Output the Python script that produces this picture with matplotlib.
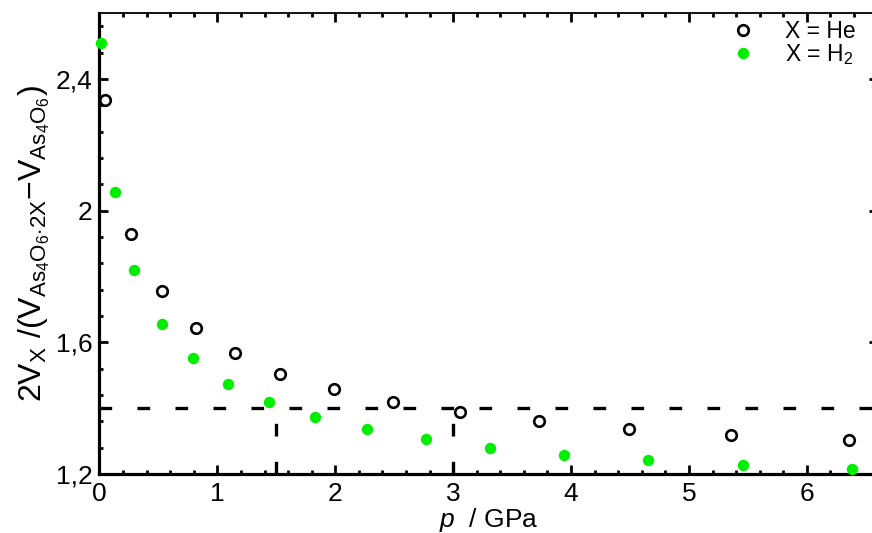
import matplotlib
matplotlib.use("Agg")
import matplotlib.pyplot as plt
from matplotlib.ticker import MultipleLocator, FuncFormatter
from matplotlib.lines import Line2D

plt.rcParams['font.family'] = ['Liberation Sans', 'DejaVu Sans']
plt.rcParams['mathtext.fontset'] = 'custom'
plt.rcParams['mathtext.rm'] = 'Liberation Sans'
plt.rcParams['mathtext.it'] = 'Liberation Sans:italic'
plt.rcParams['mathtext.bf'] = 'Liberation Sans:bold'

# Pressure (GPa) and volume ratio for the two guest species
he_p = [0.05, 0.27, 0.53, 0.82, 1.15, 1.53, 1.99, 2.49, 3.06, 3.73, 4.49, 5.36, 6.36]
he_r = [2.337, 1.930, 1.755, 1.644, 1.566, 1.504, 1.457, 1.420, 1.389, 1.361, 1.337, 1.318, 1.303]
h2_p = [0.01, 0.13, 0.29, 0.53, 0.79, 1.09, 1.44, 1.83, 2.27, 2.77, 3.31, 3.94, 4.65, 5.46, 6.38]
h2_r = [2.510, 2.056, 1.819, 1.656, 1.551, 1.474, 1.418, 1.374, 1.336, 1.305, 1.279, 1.259, 1.241, 1.226, 1.215]

ref_level = 1.4
ref_p = [1.5, 3.0]
x_ticks = [0, 1, 2, 3, 4, 5, 6]
y_ticks = [1.2, 1.6, 2.0, 2.4]

green = '#00ee00'
dash = (0, (3.8, 7.6))

fig = plt.figure(figsize=(8.72, 5.33), dpi=100)
ax = fig.add_axes([0.1141, 0.1107, 1.0064 - 0.1141, 0.9756 - 0.1107])

ax.set_xlim(0, 6.6)
ax.set_ylim(1.2, 2.6)

# Reference level and guide lines
ax.plot([0, 6.6], [ref_level, ref_level], color='black', lw=2.4, linestyle=dash,
        dash_capstyle='butt', zorder=1)
for p in ref_p:
    ax.plot([p, p], [1.2, ref_level], color='black', lw=2.4, linestyle=dash,
            dash_capstyle='butt', zorder=1)

ax.plot(he_p, he_r, linestyle='none', marker='o', ms=7.6, mfc='none', mec='black',
        mew=1.9, zorder=3, clip_on=False)
ax.plot(h2_p, h2_r, linestyle='none', marker='o', ms=8.2, mfc=green, mec='none',
        zorder=3, clip_on=False)

handles = [
    Line2D([], [], linestyle='none', marker='o', ms=7.6, mfc='none', mec='black', mew=1.9),
    Line2D([], [], linestyle='none', marker='o', ms=8.2, mfc=green, mec='none'),
]
leg = ax.legend(handles, ['X = He', r'X = H$_2$'], loc='upper right',
                bbox_to_anchor=(0.983, 1.005), frameon=False, fontsize=16.5,
                handlelength=1.0, handletextpad=1.3, labelspacing=-0.05,
                borderaxespad=0.0)

ax.xaxis.set_major_locator(MultipleLocator(1))
ax.xaxis.set_minor_locator(MultipleLocator(0.2))
ax.yaxis.set_major_locator(MultipleLocator(0.4))
ax.yaxis.set_minor_locator(MultipleLocator(0.08))
ax.set_xticks(x_ticks)
ax.set_yticks(y_ticks)
ax.yaxis.set_major_formatter(FuncFormatter(lambda v, pos: ('%g' % round(v, 3)).replace('.', ',')))

ax.tick_params(which='both', direction='in', top=True, right=True, labelsize=19,
               width=2.0, colors='black')
ax.tick_params(which='major', length=6.5)
ax.tick_params(which='minor', length=3)
ax.tick_params(axis='x', pad=6)
ax.tick_params(axis='y', pad=5)

for side in ['left', 'bottom']:
    ax.spines[side].set_linewidth(2.3)
for side in ['top', 'right']:
    ax.spines[side].set_linewidth(1.3)

ax.set_xlabel(r'$p$  / GPa', fontsize=19, labelpad=-0.5)
ax.set_ylabel(r'$\mathrm{2V_X\ /(V_{As_4O_6{\cdot}2X}{-}V_{As_4O_6})}$', fontsize=23, labelpad=3)

fig.savefig('out.png', dpi=100)
